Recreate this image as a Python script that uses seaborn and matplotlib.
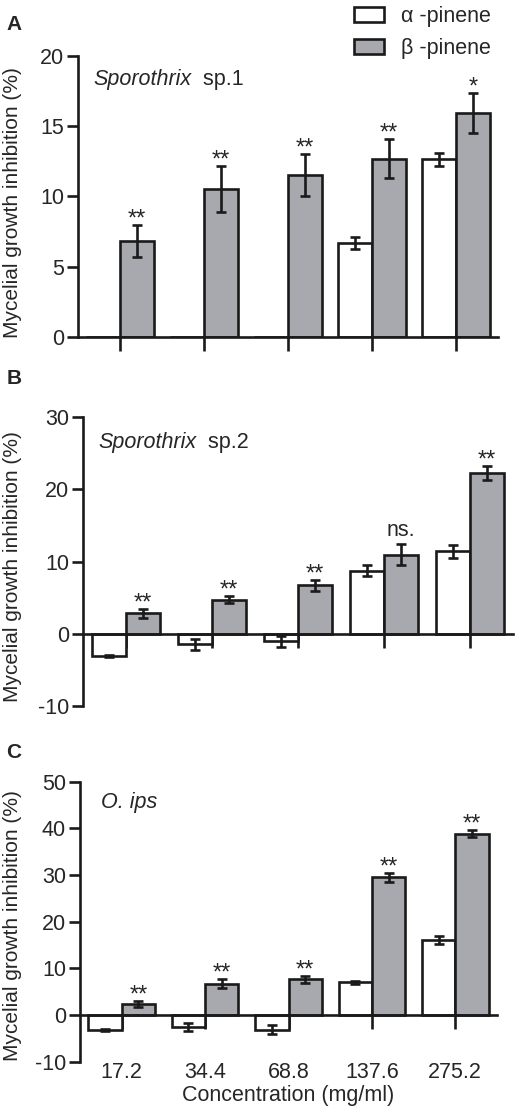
import numpy as np
import pandas as pd
import matplotlib
matplotlib.use("Agg")
import matplotlib.pyplot as plt
import seaborn as sns

# data
concentrations = ["17.2", "34.4", "68.8", "137.6", "275.2"]
compounds = ["α -pinene", "β -pinene"]

a_alpha = [np.nan, np.nan, np.nan, 6.7, 12.65]
a_alpha_err = [np.nan, np.nan, np.nan, 0.42, 0.45]
a_beta = [6.85, 10.55, 11.55, 12.7, 15.95]
a_beta_err = [1.15, 1.65, 1.5, 1.4, 1.45]
a_marks = ["**", "**", "**", "**", "*"]

b_alpha = [-3.15, -1.5, -1.05, 8.75, 11.45]
b_alpha_err = [0.15, 0.8, 0.75, 0.75, 0.9]
b_beta = [2.8, 4.7, 6.7, 10.95, 22.3]
b_beta_err = [0.6, 0.45, 0.8, 1.5, 1.0]
b_marks = ["**", "**", "**", "ns.", "**"]

c_alpha = [-3.2, -2.6, -3.1, 7.0, 16.1]
c_alpha_err = [0.3, 0.8, 0.9, 0.3, 0.9]
c_beta = [2.35, 6.75, 7.65, 29.5, 38.9]
c_beta_err = [0.6, 1.0, 0.8, 0.9, 0.8]
c_marks = ["**", "**", "**", "**", "**"]

sns.set_style("ticks")
plt.rcParams["font.family"] = ["Liberation Sans", "DejaVu Sans"]
plt.rcParams["axes.unicode_minus"] = False

grey = "#a8a9ae"
edge = "#1a1a1a"
lw = 1.9
fs = 15.5

fig = plt.figure(figsize=(5.2, 11.15), dpi=100)


def panel(rect, alpha, alpha_err, beta, beta_err, marks, yticks, ylim, species, sp_pos, letter, letter_y, ylab_x, ylab_y, legend=False):
    ax = fig.add_axes(rect)
    df = pd.DataFrame({
        "conc": concentrations * 2,
        "compound": [compounds[0]] * 5 + [compounds[1]] * 5,
        "value": list(alpha) + list(beta),
    })
    df["value"] = df["value"].fillna(0)
    sns.barplot(data=df, x="conc", y="value", hue="compound", order=concentrations,
                hue_order=compounds, palette={compounds[0]: "white", compounds[1]: grey},
                edgecolor=edge, linewidth=lw, errorbar=None, width=0.8, ax=ax, legend=legend,
                saturation=1)
    errs = [alpha_err, beta_err]
    vals = [alpha, beta]
    for bar in list(ax.patches):
        w = bar.get_width()
        if not (0.3 < w < 0.5):
            continue
        x = bar.get_x() + w / 2
        i = int(round(x))
        k = 0 if x < i else 1
        if np.isnan(errs[k][i]):
            continue
        ax.errorbar(x, vals[k][i], yerr=errs[k][i], fmt="none", ecolor=edge,
                    elinewidth=lw, capsize=3.6, capthick=lw, zorder=5)
        if k == 1:
            top = vals[k][i] + errs[k][i]
            if marks[i] == "ns.":
                ax.annotate(marks[i], (x, top), xytext=(0, 2), textcoords="offset points",
                            ha="center", va="bottom", fontsize=fs)
            else:
                ax.annotate(marks[i], (x, top), xytext=(0, -4), textcoords="offset points",
                            ha="center", va="bottom", fontsize=17)
    ax.set_xlim(-0.5, 4.5)
    ax.set_ylim(*ylim)
    ax.set_yticks(yticks)
    ax.set_xticks(range(5))
    ax.tick_params(axis="both", direction="out", length=8, width=lw, color=edge,
                   labelsize=fs, pad=2)
    ax.tick_params(axis="x", length=10, labelbottom=False)
    ax.set_xlabel("")
    ax.set_ylabel("Mycelial growth inhibition (%)", fontsize=15)
    ax.yaxis.set_label_coords(ylab_x, ylab_y)
    sns.despine(ax=ax)
    ax.spines["bottom"].set_position(("data", 0))
    for s in ["left", "bottom"]:
        ax.spines[s].set_linewidth(lw)
        ax.spines[s].set_color(edge)
    t = ax.text(sp_pos[0], sp_pos[1], species[0], transform=ax.transAxes,
                fontsize=fs, style="italic", va="center", ha="left")
    if species[1]:
        ax.annotate(species[1], xy=(1, 0.5), xycoords=t, va="center", ha="left", fontsize=fs)
    fig.text(14 / 520, 1 - letter_y / 1115, letter, fontsize=15, fontweight="bold",
             ha="center", va="center")
    return ax


ax_a = panel([78 / 520, 1 - 337 / 1115, 420 / 520, 281 / 1115], a_alpha, a_alpha_err,
             a_beta, a_beta_err, a_marks, [0, 5, 10, 15, 20], (0, 20),
             ("Sporothrix", "  sp.1"), (0.036, 0.915), "A", 25, -0.133, 0.477, legend=True)
ax_b = panel([83 / 520, 1 - 705.7 / 1115, 430 / 520, 288.4 / 1115], b_alpha, b_alpha_err,
             b_beta, b_beta_err, b_marks, [-10, 0, 10, 20, 30], (-10, 30),
             ("Sporothrix", "  sp.2"), (0.035, 0.913), "B", 378, -0.142, 0.482)
ax_c = panel([80 / 520, 1 - 1061.7 / 1115, 417 / 520, 280 / 1115], c_alpha, c_alpha_err,
             c_beta, c_beta_err, c_marks, [-10, 0, 10, 20, 30, 40, 50], (-10, 50),
             ("O. ips", ""), (0.05, 0.925), "C", 753, -0.139, 0.485)

# category labels at the bottom of panel C
sec = ax_c.secondary_xaxis("bottom")
sec.set_xticks(range(5), concentrations)
sec.tick_params(length=0, labelsize=fs, pad=0)
sec.spines["bottom"].set_visible(False)
sec.set_xlabel("Concentration (mg/ml)", fontsize=fs, labelpad=2)

handles, labels = ax_a.get_legend_handles_labels()
ax_a.get_legend().remove()
fig.legend(handles, labels, loc="upper left", bbox_to_anchor=(354 / 520, 1 - 6 / 1115),
           frameon=False, fontsize=fs, handlelength=1.4, handleheight=0.7,
           handletextpad=0.8, labelspacing=0.5, borderpad=0, borderaxespad=0)

fig.savefig("out.png", dpi=100)
